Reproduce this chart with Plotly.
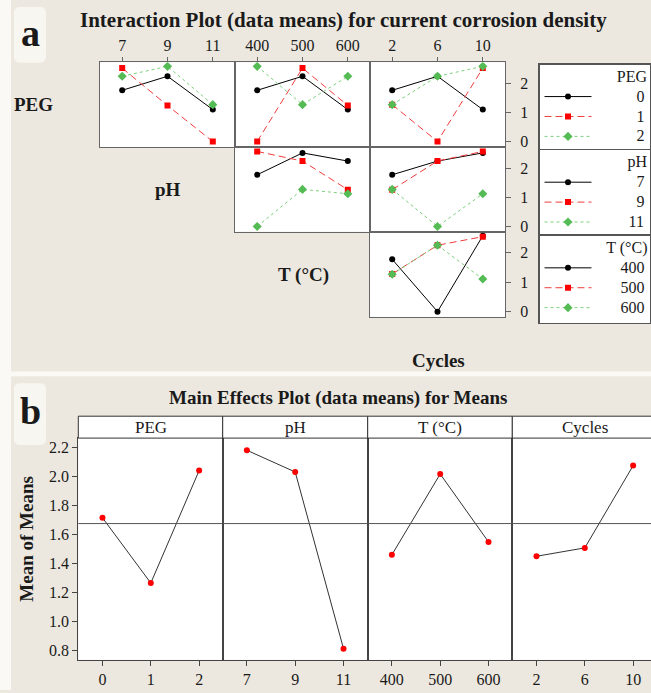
import plotly.graph_objects as go
import numpy as np

# ---------------- data ----------------
peg_levels = [0, 1, 2]
ph_levels = [7, 9, 11]
temp_levels = [400, 500, 600]
cycle_levels = [2, 6, 10]

peg_labels = ["0", "1", "2"]
ph_labels = ["7", "9", "11"]
temp_labels = ["400", "500", "600"]
cycle_labels = ["2", "6", "10"]

# interaction plot (data means), row PEG
peg0_vs_ph = [1.76, 2.24, 1.10]
peg1_vs_ph = [2.52, 1.24, 0.01]
peg2_vs_ph = [2.24, 2.58, 1.27]
peg0_vs_temp = [1.76, 2.24, 1.10]
peg1_vs_temp = [0.01, 2.52, 1.24]
peg2_vs_temp = [2.58, 1.27, 2.24]
peg0_vs_cycles = [1.76, 2.24, 1.10]
peg1_vs_cycles = [1.27, 0.01, 2.52]
peg2_vs_cycles = [1.27, 2.24, 2.58]
# row pH
ph7_vs_temp = [1.77, 2.52, 2.24]
ph9_vs_temp = [2.57, 2.24, 1.26]
ph11_vs_temp = [0.00, 1.27, 1.12]
ph7_vs_cycles = [1.77, 2.24, 2.52]
ph9_vs_cycles = [1.26, 2.24, 2.57]
ph11_vs_cycles = [1.27, 0.00, 1.12]
# row T
t400_vs_cycles = [1.78, 0.00, 2.58]
t500_vs_cycles = [1.28, 2.26, 2.55]
t600_vs_cycles = [1.27, 2.26, 1.11]

# main effects plot (mean of means)
me_peg = [1.714, 1.263, 2.040]
me_ph = [2.180, 2.030, 0.810]
me_temp = [1.458, 2.016, 1.547]
me_cycles = [1.448, 1.506, 2.074]
factor_names = ["PEG", "pH", "T (°C)", "Cycles"]

# ---------------- layout helpers ----------------
W, H = 651, 693
SERIF = "Liberation Serif, Times New Roman, serif"
BG = "#ECE8DF"
TXT = "#1a1a1a"
NBSP = "\u00a0"


def fx(p):
    return p / W


def fy(p):
    return 1 - p / H


def big(t, size=16):
    return '<span style="font-size:%dpx">%s</span>' % (size, t)


def legend_label(t):
    # right-align short labels inside the legend box
    return big(NBSP * (6 + 2 * (3 - len(t))) + t)


fig = go.Figure()
layout = {}
shapes = []
annotations = []

styles = [
    dict(line=dict(color="black", width=1, dash="solid"),
         marker=dict(color="black", symbol="circle", size=6)),
    dict(line=dict(color="#F03C3C", width=1, dash="7px,4px"),
         marker=dict(color="#FF0000", symbol="square", size=6)),
    dict(line=dict(color="#7CCF7C", width=1, dash="3px,3px"),
         marker=dict(color="#55BB55", symbol="diamond", size=7)),
]

col_x = [(100, 235), (235, 370), (370, 505)]
row_y = [(62.5, 147.7), (147.7, 232.7), (232.7, 318.3)]

cells = [
    (1, 0, 0, ph_levels, ph_labels, [peg0_vs_ph, peg1_vs_ph, peg2_vs_ph], "legend", peg_labels),
    (2, 1, 0, temp_levels, temp_labels, [peg0_vs_temp, peg1_vs_temp, peg2_vs_temp], "legend", peg_labels),
    (3, 2, 0, cycle_levels, cycle_labels, [peg0_vs_cycles, peg1_vs_cycles, peg2_vs_cycles], "legend", peg_labels),
    (4, 1, 1, temp_levels, temp_labels, [ph7_vs_temp, ph9_vs_temp, ph11_vs_temp], "legend2", ph_labels),
    (5, 2, 1, cycle_levels, cycle_labels, [ph7_vs_cycles, ph9_vs_cycles, ph11_vs_cycles], "legend2", ph_labels),
    (6, 2, 2, cycle_levels, cycle_labels, [t400_vs_cycles, t500_vs_cycles, t600_vs_cycles], "legend3", temp_labels),
]

shown = set()
for idx, c, r, levels, lab, series, leg, names in cells:
    sfx = "" if idx == 1 else str(idx)
    d = levels[1] - levels[0]
    layout["xaxis" + sfx] = dict(
        domain=[fx(col_x[c][0]), fx(col_x[c][1])], anchor="y" + sfx,
        range=[levels[0] - 0.49 * d, levels[-1] + 0.49 * d],
        showline=True, mirror=True, linecolor="#666", linewidth=1,
        tickvals=levels, ticktext=lab, side="top",
        ticks="outside" if r == 0 else "", ticklen=4, tickcolor="#666",
        showticklabels=(r == 0), showgrid=False, zeroline=False,
        tickfont=dict(family=SERIF, size=16, color=TXT))
    layout["yaxis" + sfx] = dict(
        domain=[fy(row_y[r][1]), fy(row_y[r][0])], anchor="x" + sfx,
        range=[-0.18, 2.72], showline=True, mirror=True, linecolor="#666",
        linewidth=1, side="right", tickvals=[0, 1, 2],
        ticks="outside" if c == 2 else "", ticklen=5, tickcolor="#666",
        showticklabels=(c == 2), showgrid=False, zeroline=False,
        ticklabelstandoff=6,
        tickfont=dict(family=SERIF, size=16, color=TXT))
    for k, vals in enumerate(series):
        key = (leg, k)
        fig.add_trace(go.Scatter(
            x=levels, y=vals, mode="lines+markers", name=legend_label(names[k]),
            xaxis="x" + sfx, yaxis="y" + sfx, legend=leg,
            legendgroup=leg + str(k), showlegend=key not in shown,
            line=styles[k]["line"], marker=styles[k]["marker"],
            hoverinfo="skip"))
        shown.add(key)

# ---------------- main effects panel ----------------
b_cols = [(78.3, 222.7), (222.7, 367.7), (367.7, 512.3), (512.3, 651)]
b_levels = [peg_levels, ph_levels, temp_levels, cycle_levels]
b_labels = [peg_labels, ph_labels, temp_labels, cycle_labels]
b_vals = [me_peg, me_ph, me_temp, me_cycles]
grand_mean = float(np.mean(me_peg + me_ph + me_temp + me_cycles))
b_top, b_bot = 440, 662.7
ytick_vals = [0.8, 1.0, 1.2, 1.4, 1.6, 1.8, 2.0, 2.2]

for j in range(4):
    idx = 7 + j
    sfx = str(idx)
    levels = b_levels[j]
    d = levels[1] - levels[0]
    x0p, x1p = b_cols[j]
    lo = levels[0] - 0.5 * d
    span_units = (x1p - x0p) / (145.0 / 3.0) * d
    layout["xaxis" + sfx] = dict(
        domain=[fx(x0p), fx(x1p)], anchor="y" + sfx,
        range=[lo, lo + span_units],
        showline=True, mirror=True, linecolor="#444", linewidth=1,
        tickvals=levels, ticktext=b_labels[j], ticks="outside", ticklen=5,
        tickcolor="#444", showgrid=False, zeroline=False,
        tickfont=dict(family=SERIF, size=16, color=TXT))
    layout["yaxis" + sfx] = dict(
        domain=[fy(b_bot), fy(b_top)], anchor="x" + sfx,
        range=[0.733, 2.264], showline=True, mirror=(j < 3),
        linecolor="#444", linewidth=1, showgrid=False, zeroline=False,
        tickvals=ytick_vals, ticktext=["%.1f" % v for v in ytick_vals],
        ticks="outside" if j == 0 else "", ticklen=5, tickcolor="#444",
        showticklabels=(j == 0),
        tickfont=dict(family=SERIF, size=16, color=TXT))
    fig.add_trace(go.Scatter(
        x=levels, y=b_vals[j], mode="lines+markers", showlegend=False,
        xaxis="x" + sfx, yaxis="y" + sfx,
        line=dict(color="#333", width=1),
        marker=dict(color="#FF0000", size=6, symbol="circle"),
        hoverinfo="skip"))
    shapes.append(dict(type="line", xref="x%s domain" % sfx, yref="y" + sfx,
                       x0=0, x1=1, y0=grand_mean, y1=grand_mean,
                       line=dict(color="#555", width=1)))
    # header strip
    shapes.append(dict(type="rect", xref="paper", yref="paper",
                       x0=fx(x0p), x1=fx(x1p + (8 if j == 3 else 0)),
                       y0=fy(440), y1=fy(418),
                       fillcolor="white", line=dict(color="#333", width=1)))
    annotations.append(dict(text=factor_names[j], xref="paper", yref="paper",
                            x=fx((x0p + (x0p + 145)) / 2), y=fy(429),
                            showarrow=False, xanchor="center", yanchor="middle",
                            font=dict(family=SERIF, size=17, color=TXT)))


# ---------------- decorations ----------------
def rrect(x0, y0, x1, y1, r):
    pts = [
        "M %f,%f" % (fx(x0 + r), fy(y0)),
        "L %f,%f" % (fx(x1 - r), fy(y0)),
        "Q %f,%f %f,%f" % (fx(x1), fy(y0), fx(x1), fy(y0 + r)),
        "L %f,%f" % (fx(x1), fy(y1 - r)),
        "Q %f,%f %f,%f" % (fx(x1), fy(y1), fx(x1 - r), fy(y1)),
        "L %f,%f" % (fx(x0 + r), fy(y1)),
        "Q %f,%f %f,%f" % (fx(x0), fy(y1), fx(x0), fy(y1 - r)),
        "L %f,%f" % (fx(x0), fy(y0 + r)),
        "Q %f,%f %f,%f" % (fx(x0), fy(y0), fx(x0 + r), fy(y0)),
        "Z",
    ]
    return " ".join(pts)


shapes.insert(0, dict(type="rect", xref="paper", yref="paper", x0=0, x1=fx(11),
                      y0=0, y1=1, fillcolor="#FAF9F6", line=dict(width=0),
                      layer="below"))
shapes.insert(0, dict(type="rect", xref="paper", yref="paper", x0=0, x1=1,
                      y0=fy(378), y1=fy(373), fillcolor="#FAF9F6",
                      line=dict(width=0), layer="below"))
shapes.append(dict(type="path", xref="paper", yref="paper",
                   path=rrect(14, 7, 46, 63, 6), fillcolor="#F8F6F1",
                   line=dict(width=0), layer="below"))
shapes.append(dict(type="path", xref="paper", yref="paper",
                   path=rrect(14, 385, 46, 447, 6), fillcolor="#F8F6F1",
                   line=dict(width=0), layer="below"))

annotations += [
    dict(text="<b>a</b>", x=fx(30), y=fy(33), font=dict(size=38)),
    dict(text="<b>b</b>", x=fx(30), y=fy(413), font=dict(size=38)),
    dict(text="<b>Interaction Plot (data means) for current corrosion density</b>",
         x=fx(343), y=fy(20), font=dict(size=21)),
    dict(text="<b>Main Effects Plot (data means) for Means</b>",
         x=fx(338), y=fy(400), font=dict(size=19)),
    dict(text="<b>PEG</b>", x=fx(33), y=fy(105), font=dict(size=19)),
    dict(text="<b>pH</b>", x=fx(168), y=fy(190), font=dict(size=19)),
    dict(text="<b>T (°C)</b>", x=fx(303), y=fy(276), font=dict(size=19)),
    dict(text="<b>Cycles</b>", x=fx(438), y=fy(362), font=dict(size=19)),
    dict(text="<b>Mean of Means</b>", x=fx(27), y=fy(541), textangle=-90,
         font=dict(size=19)),
]
for a in annotations:
    a.setdefault("xref", "paper")
    a.setdefault("yref", "paper")
    a.setdefault("showarrow", False)
    a.setdefault("xanchor", "center")
    a.setdefault("yanchor", "middle")
    f = a.setdefault("font", {})
    f.setdefault("family", SERIF)
    f.setdefault("color", TXT)


def legend_box(top, title):
    return dict(x=fx(538), y=fy(top), xanchor="left", yanchor="top",
                bgcolor="white", bordercolor="#555", borderwidth=1.5,
                font=dict(family=SERIF, size=13, color=TXT),
                title=dict(text=big(title), side="top right",
                           font=dict(family=SERIF, size=13, color=TXT)),
                itemwidth=47, tracegroupgap=0, traceorder="normal")


layout.update(
    width=W, height=H, margin=dict(l=0, r=0, t=0, b=0),
    paper_bgcolor=BG, plot_bgcolor="white",
    showlegend=True,
    legend=legend_box(63.5, "PEG"),
    legend2=legend_box(149.5, "pH"),
    legend3=legend_box(235.5, "T (°C)"),
    shapes=shapes, annotations=annotations,
    font=dict(family=SERIF, color=TXT),
)
fig.update_layout(**layout)
fig.write_html("out.html")
